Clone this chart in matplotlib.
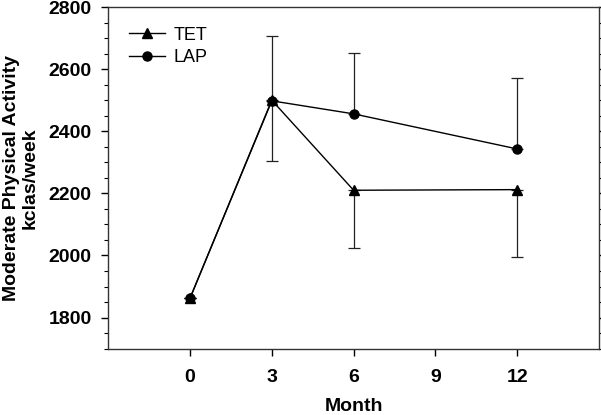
import numpy as np
import matplotlib.pyplot as plt
from matplotlib.ticker import MultipleLocator

plt.rcParams['font.family'] = ['Liberation Sans', 'DejaVu Sans']

# ---> data
months = [0, 3, 6, 12]
tet = [1862, 2500, 2210, 2212]
tet_err_low = [0, 197, 187, 218]
lap = [1862, 2498, 2456, 2343]
lap_err_up = [0, 209, 195, 228]

fig = plt.figure(figsize=(6.01, 4.15), dpi=100)
ax = fig.add_axes([0.18, 0.16, 0.8167, 0.823])

# error bars (one-sided)
ax.errorbar(months, tet, yerr=[tet_err_low, np.zeros(4)], fmt='none',
            ecolor='#222222', elinewidth=0.9, capsize=4, capthick=0.9)
ax.errorbar(months, lap, yerr=[np.zeros(4), lap_err_up], fmt='none',
            ecolor='#222222', elinewidth=0.9, capsize=4, capthick=0.9)

ax.plot(months, tet, color='black', lw=1, marker='^', ms=7, label='TET')
ax.plot(months, lap, color='black', lw=1, marker='o', ms=6.5, label='LAP')

ax.set_xlim(-3, 15)
ax.set_ylim(1700, 2800)
ax.set_xticks([0, 3, 6, 9, 12])
ax.set_yticks([1800, 2000, 2200, 2400, 2600, 2800])
ax.yaxis.set_minor_locator(MultipleLocator(50))
ax.tick_params(axis='both', which='major', direction='out', length=5, width=1,
               labelsize=14, pad=7)
ax.tick_params(axis='x', which='major', pad=10)
ax.tick_params(axis='y', which='minor', direction='out', length=3, width=0.8)
ax.tick_params(axis='y', which='both', right=True)
for lbl in ax.get_xticklabels() + ax.get_yticklabels():
    lbl.set_fontweight('bold')
for s in ax.spines.values():
    s.set_linewidth(1)
    s.set_color('#333333')

ax.set_xlabel('Month', fontsize=14, fontweight='bold', labelpad=8)
ax.set_ylabel('Moderate Physical Activity\nkclas/week', fontsize=14,
              fontweight='bold', labelpad=7, linespacing=1.15)

ax.legend(loc='upper left', bbox_to_anchor=(0.01, 0.99), frameon=False,
          fontsize=13, handlelength=2.0, handletextpad=0.45, labelspacing=0.3)

plt.savefig('out.png', dpi=100)
